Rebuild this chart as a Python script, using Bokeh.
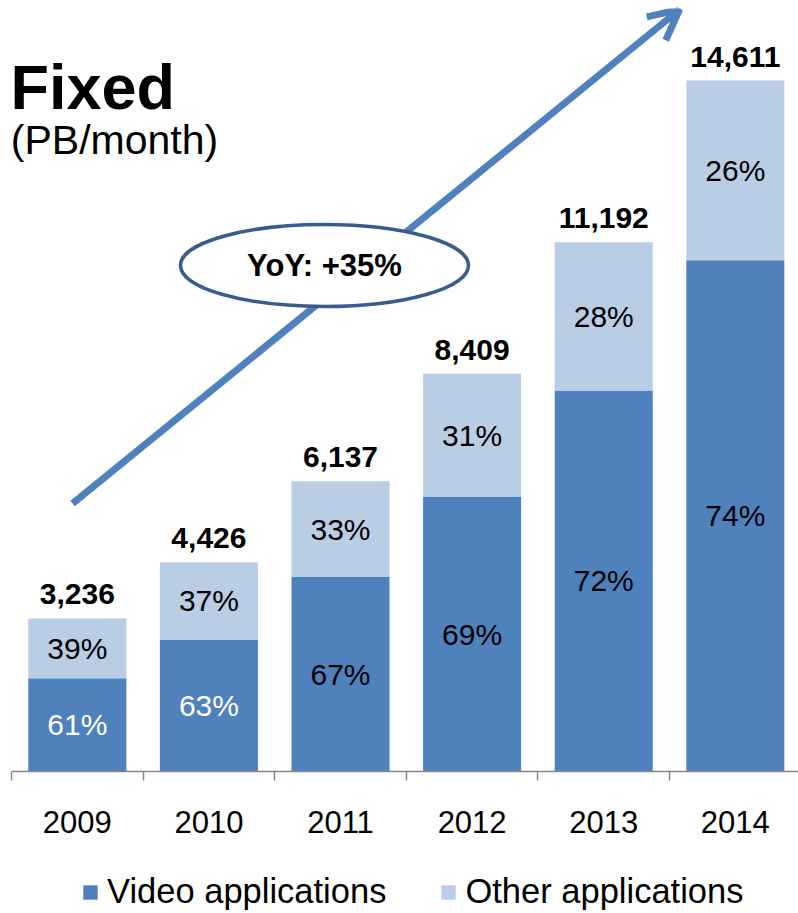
from bokeh.plotting import figure
from bokeh.layouts import column
from bokeh.models import (Range1d, FixedTicker, ColumnDataSource, Arrow, OpenHead,
                          Label, LabelSet, Legend, LegendItem)
from bokeh.core.properties import value
from bokeh.embed import file_html
from bokeh.resources import INLINE

years = ["2009", "2010", "2011", "2012", "2013", "2014"]
totals = [3236, 4426, 6137, 8409, 11192, 14611]
video_pct = [61, 63, 67, 69, 72, 74]
other_pct = [39, 37, 33, 31, 28, 26]
video_label_colors = ["white", "white", "black", "black", "black", "black"]
series_names = ["Video applications", "Other applications"]
yoy_text = "YoY: +35%"

DARK = "#4F81BD"
LIGHT = "#B9CDE5"
FONT = "Liberation Sans"

x = list(range(len(years)))
video = [t * v / 100 for t, v in zip(totals, video_pct)]
other = [t - v for t, v in zip(totals, video)]

src = ColumnDataSource(dict(
    x=x, video=video, other=other,
    video_mid=[v / 2 for v in video],
    other_mid=[v + o / 2 for v, o in zip(video, other)],
    video_lbl=[f"{p}%" for p in video_pct],
    other_lbl=[f"{p}%" for p in other_pct],
    vcol=video_label_colors,
    total=totals,
    total_lbl=[f"{t:,}" for t in totals],
))

p = figure(frame_width=787, frame_height=763,
           x_range=Range1d(-0.5, 5.48), y_range=Range1d(0, 16134),
           output_backend="svg", toolbar_location=None, y_axis_location=None,
           min_border_left=11, min_border_right=0, min_border_top=8, min_border_bottom=70)
p.outline_line_color = None
p.xgrid.visible = False
p.ygrid.visible = False
p.background_fill_color = "white"
p.border_fill_color = "white"

rs = p.vbar_stack(["video", "other"], x="x", width=0.745, color=[DARK, LIGHT],
                  line_color=None, source=src)

# segment labels
p.text(x="x", y="video_mid", text="video_lbl", source=src, text_align="center",
       text_baseline="middle", text_color="vcol", text_font=value(FONT),
       text_font_size="30px")
p.text(x="x", y="other_mid", text="other_lbl", source=src, text_align="center",
       text_baseline="middle", text_color="black", text_font=value(FONT),
       text_font_size="30px")
# totals
p.add_layout(LabelSet(x="x", y="total", text="total_lbl", source=src,
                      text_align="center", text_baseline="alphabetic",
                      text_color="black", text_font=value(FONT), text_font_size=value("30px"),
                      text_font_style="bold", y_offset=14))

# growth arrow
arrow = Arrow(x_start=-0.036, y_start=5667, x_end=4.576, y_end=16110,
              line_color=DARK, line_width=7,
              end=OpenHead(size=30, line_color=DARK, line_width=7))
arrow.level = "underlay"
p.add_layout(arrow)

# YoY ellipse
p.ellipse(x=[1.878], y=[10700], width=[288], height=[82], width_units="screen",
          height_units="screen", fill_color="white", line_color="#385D8A",
          line_width=3.5)
p.text(x=[1.878], y=[10700], text=[yoy_text], text_align="center",
       text_baseline="middle", text_font=value(FONT), text_font_size="31px",
       text_font_style="bold", text_color="black")

# title
p.add_layout(Label(x=-0.508, y=14464, text="Fixed", text_font=FONT,
                   text_font_size="63px", text_font_style="bold",
                   text_baseline="alphabetic", text_color="black"))
p.add_layout(Label(x=-0.505, y=13343, text="(PB/month)", text_font=FONT,
                   text_font_size="41px", text_baseline="alphabetic",
                   text_color="black"))

# axis
ax = p.xaxis[0]
ax.ticker = FixedTicker(ticks=x, minor_ticks=[i - 0.5 for i in range(len(years) + 1)])
ax.major_label_overrides = {i: y for i, y in enumerate(years)}
ax.major_tick_line_color = None
ax.major_tick_out = 0
ax.major_tick_in = 0
ax.minor_tick_in = 0
ax.minor_tick_out = 9
ax.minor_tick_line_color = "#868686"
ax.minor_tick_line_width = 1.5
ax.axis_line_color = "#868686"
ax.axis_line_width = 1.5
ax.major_label_text_font = FONT
ax.major_label_text_font_size = "31px"
ax.major_label_text_color = "black"
ax.major_label_standoff = 30

# legend in its own strip below the chart (swatch renderers hold no drawable data)
nan = float("nan")
lg = figure(frame_width=787, height=72, x_range=Range1d(0, 1), y_range=Range1d(0, 1),
            output_backend="svg", toolbar_location=None,
            x_axis_location=None, y_axis_location=None,
            min_border_left=11, min_border_right=0, min_border_top=0, min_border_bottom=0)
lg.outline_line_color = None
lg.xgrid.visible = False
lg.ygrid.visible = False
r_video = lg.vbar(x=[nan], top=[nan], width=0.1, fill_color=DARK, line_color=None)
r_other = lg.vbar(x=[nan], top=[nan], width=0.1, fill_color=LIGHT, line_color=None)
legend = Legend(items=[LegendItem(label=series_names[0], renderers=[r_video]),
                       LegendItem(label=series_names[1], renderers=[r_other])],
                orientation="horizontal", location=(70, 2))
legend.label_text_font = FONT
legend.label_text_font_size = "34.5px"
legend.label_text_color = "black"
legend.glyph_width = 18
legend.glyph_height = 18
legend.label_standoff = 8
legend.spacing = 53
legend.padding = 0
legend.margin = 0
legend.border_line_color = None
legend.background_fill_alpha = 0
lg.add_layout(legend)

layout = column(p, lg, spacing=0)
open("out.html", "w").write(file_html(layout, INLINE))
